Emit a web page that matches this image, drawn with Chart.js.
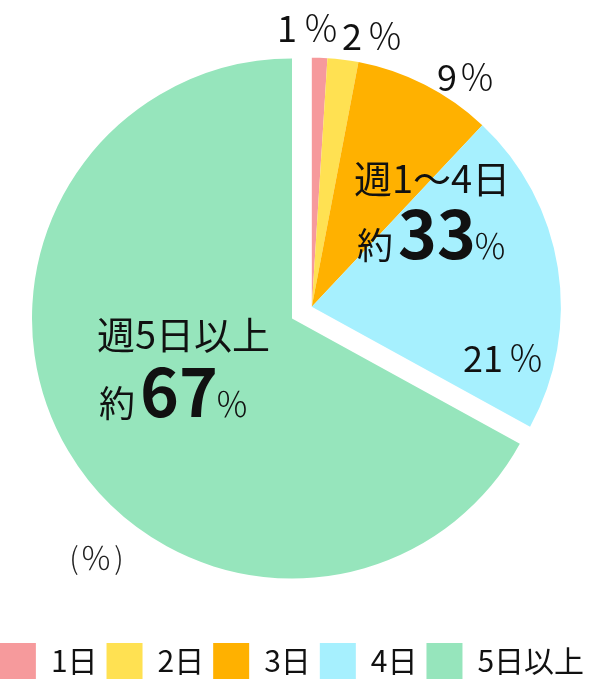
<!DOCTYPE html>
<html lang="ja">
<head>
<meta charset="utf-8">
<script src="https://cdn.jsdelivr.net/npm/chart.js@4.4.1/dist/chart.umd.min.js"></script>
<style>
  html, body { margin: 0; padding: 0; background: #fff; }
  #wrap { width: 592px; height: 686px; }
</style>
</head>
<body>
<div id="wrap"><canvas id="pie"></canvas></div>
<script>
const categories = ["1日", "2日", "3日", "4日", "5日以上"];
const shares = [1, 2, 9, 21, 67];
const shareLabels = ["1", "2", "9", "21"];
const colors = ["#F69A9C", "#FFE152", "#FFB100", "#A6F0FE", "#96E5BC"];

const FONT = "'Noto Sans CJK JP', sans-serif";
const groupCount = 4; // 1~4日 slices are pulled out together
const centerNudge = -4; // pie sits a little left of the legend centre

// move the 週1〜4日 slices out as one block
const groupShift = {
  id: "groupShift",
  afterDatasetsUpdate(chart) {
    const arcs = chart.getDatasetMeta(0).data;
    const mid = (arcs[0].startAngle + arcs[groupCount - 1].endAngle) / 2;
    const r = arcs[groupCount].outerRadius;
    arcs.forEach((a, i) => {
      a.x += centerNudge;
      if (i < groupCount) {
        a.x += Math.cos(mid) * 23;
        a.y += Math.sin(mid) * 23;
        a.outerRadius = r * 0.958;
      }
    });
  }
};

const textLabels = {
  id: "textLabels",
  afterDraw(chart) {
    const ctx = chart.ctx;
    const main = chart.getDatasetMeta(0).data[groupCount];
    const cx = main.x, cy = main.y;
    ctx.save();
    ctx.fillStyle = "#111";
    ctx.textBaseline = "middle";

    // [digits right edge, ％ centre, y] relative to the pie centre
    const spots = [[5, 29, -290], [70, 93, -282], [165, 185, -241], [211, 234, 40]];
    shareLabels.forEach((t, i) => {
      const [dx, px, dy] = spots[i];
      ctx.textAlign = "right";
      ctx.font = "36px " + FONT;
      ctx.fillText(t, cx + dx, cy + dy);
      ctx.textAlign = "center";
      ctx.font = "300 36px " + FONT;
      ctx.fillText("％", cx + px, cy + dy);
    });

    ctx.textAlign = "left";
    ctx.font = "38px " + FONT;
    ctx.fillText("週1〜4日", cx + 62, cy - 140);
    ctx.fillText("週5日以上", cx - 195, cy + 16);

    const bigLine = (x, y, num) => {
      ctx.textBaseline = "alphabetic";
      ctx.textAlign = "left";
      ctx.font = "36px " + FONT;
      ctx.fillText("約", x, y);
      x += ctx.measureText("約").width + 5;
      ctx.font = "bold 66px " + FONT;
      ctx.fillText(num, x, y);
      x += ctx.measureText(num).width + 14;
      ctx.textAlign = "center";
      ctx.font = "300 34px " + FONT;
      ctx.fillText("％", x, y);
    };
    bigLine(cx + 65, cy - 60, "33");
    bigLine(cx - 193, cy + 98, "67");

    ctx.fillStyle = "#222";
    ctx.textBaseline = "middle";
    ctx.textAlign = "center";
    ctx.font = "300 30px " + FONT;
    ctx.fillText("(", cx - 218, cy + 239);
    ctx.fillText(")", cx - 173, cy + 239);
    ctx.font = "300 32px " + FONT;
    ctx.fillText("％", cx - 196, cy + 239);
    ctx.restore();
  }
};

new Chart(document.getElementById("pie"), {
  type: "pie",
  data: {
    labels: categories,
    datasets: [{
      data: shares,
      backgroundColor: colors,
      borderWidth: 0
    }]
  },
  options: {
    responsive: true,
    maintainAspectRatio: false,
    animation: false,
    events: [],
    radius: 260,
    layout: { padding: { top: 3, right: -6, left: -14, bottom: -3 } },
    plugins: {
      tooltip: { enabled: false },
      legend: {
        position: "bottom",
        labels: {
          boxWidth: 36,
          boxHeight: 36,
          padding: 9,
          color: "#111",
          font: { family: FONT, size: 30 }
        }
      }
    }
  },
  plugins: [groupShift, textLabels]
});
</script>
</body>
</html>
